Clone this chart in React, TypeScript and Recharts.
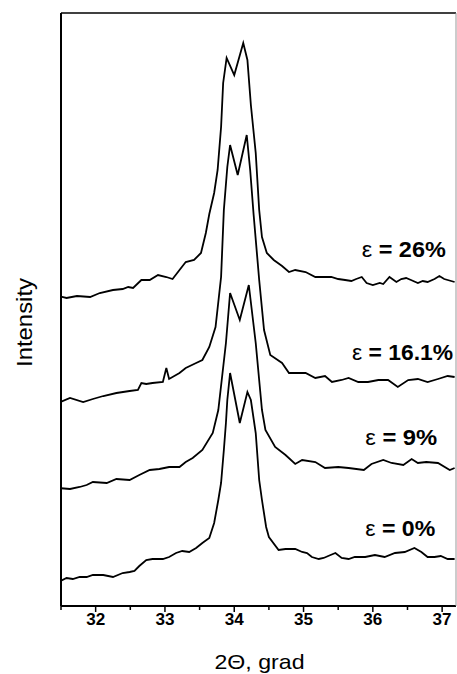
import React from "react";
import { LineChart, Line, XAxis, YAxis, ReferenceDot } from "recharts";

const FONT = '"Liberation Sans", Arial, Helvetica, sans-serif';

// 2-theta positions and stacked intensities (arbitrary units, curves offset)
const x0 = [31.46, 31.58, 31.67, 31.77, 31.87, 31.96, 32.11, 32.25, 32.39, 32.49, 32.56, 32.63, 32.73, 32.82, 32.97, 33.06, 33.16, 33.25, 33.35, 33.45, 33.54, 33.64, 33.71, 33.77, 33.81, 33.85, 33.88, 33.9, 33.94, 34.08, 34.19, 34.24, 34.31, 34.36, 34.4, 34.46, 34.5, 34.64, 34.74, 34.88, 34.98, 35.05, 35.12, 35.22, 35.29, 35.39, 35.46, 35.55, 35.65, 35.74, 35.89, 36.03, 36.17, 36.32, 36.46, 36.6, 36.7, 36.79, 36.89, 36.98, 37.08, 37.18];
const v0 = [24, 28, 27, 29, 29, 31, 31, 29, 33, 34, 35, 40, 46, 47, 47, 49, 53, 55, 54, 58, 63, 68, 83, 106, 123, 156, 183, 206, 233, 183, 214, 206, 173, 126, 106, 79, 69, 56, 57, 57, 54, 53, 49, 47, 48, 51, 53, 48, 47, 49, 49, 51, 49, 53, 54, 58, 54, 49, 49, 50, 47, 47];

const x9 = [31.46, 31.63, 31.77, 31.87, 31.96, 32.16, 32.3, 32.49, 32.63, 32.78, 32.92, 33.06, 33.21, 33.3, 33.4, 33.54, 33.69, 33.77, 33.88, 33.94, 34.08, 34.21, 34.31, 34.4, 34.45, 34.59, 34.74, 34.88, 34.98, 35.17, 35.31, 35.5, 35.65, 35.87, 35.98, 36.15, 36.27, 36.44, 36.56, 36.65, 36.77, 36.94, 37.11, 37.18];
const v9 = [118, 117, 119, 121, 124, 123, 127, 126, 131, 136, 137, 139, 139, 144, 148, 156, 173, 196, 263, 313, 286, 321, 263, 196, 176, 159, 151, 142, 146, 144, 138, 139, 138, 136, 142, 146, 143, 141, 147, 143, 144, 143, 136, 138];

const x16 = [31.46, 31.63, 31.82, 31.96, 32.11, 32.3, 32.49, 32.61, 32.66, 32.73, 32.82, 32.97, 33.02, 33.06, 33.21, 33.3, 33.45, 33.54, 33.64, 33.73, 33.81, 33.85, 33.9, 33.94, 34.05, 34.18, 34.23, 34.28, 34.36, 34.43, 34.52, 34.69, 34.79, 34.88, 35.03, 35.17, 35.31, 35.41, 35.55, 35.65, 35.79, 35.93, 36.08, 36.22, 36.36, 36.51, 36.65, 36.79, 36.94, 37.08, 37.18];
const v16 = [203, 208, 204, 207, 210, 213, 215, 216, 223, 222, 223, 224, 238, 227, 233, 238, 243, 246, 259, 279, 329, 396, 439, 461, 431, 471, 436, 391, 326, 276, 251, 243, 233, 233, 233, 228, 230, 224, 226, 228, 224, 224, 226, 226, 219, 226, 227, 224, 227, 230, 229];

const x26 = [31.46, 31.58, 31.73, 31.92, 32.06, 32.25, 32.39, 32.47, 32.54, 32.66, 32.78, 32.9, 33.02, 33.11, 33.21, 33.3, 33.42, 33.52, 33.59, 33.64, 33.71, 33.76, 33.81, 33.84, 33.89, 34.0, 34.13, 34.19, 34.24, 34.31, 34.36, 34.4, 34.47, 34.57, 34.69, 34.79, 34.88, 35.03, 35.17, 35.31, 35.4, 35.5, 35.6, 35.69, 35.76, 35.84, 35.91, 36.0, 36.1, 36.15, 36.24, 36.34, 36.41, 36.48, 36.55, 36.65, 36.72, 36.79, 36.89, 36.96, 37.03, 37.18];
const v26 = [310, 308, 310, 309, 313, 316, 317, 319, 318, 326, 326, 331, 329, 327, 336, 344, 346, 353, 373, 392, 413, 436, 479, 523, 548, 531, 563, 546, 501, 453, 396, 369, 353, 346, 340, 334, 336, 334, 329, 329, 329, 327, 326, 325, 327, 329, 323, 321, 323, 322, 329, 324, 327, 328, 326, 323, 325, 324, 327, 330, 327, 324];

const strainNames = ["0%", "9%", "16.1%", "26%"];
const xTicks = [31.5, 32, 32.5, 33, 33.5, 34, 34.5, 35, 35.5, 36, 36.5, 37];
const X_DOMAIN = [31.5, 37.2];
const Y_DOMAIN = [0, 593];

const toPoints = (xs: number[], vs: number[]) => xs.map((x, i) => ({ x, v: vs[i] }));
const curves = [toPoints(x0, v0), toPoints(x9, v9), toPoints(x16, v16), toPoints(x26, v26)];

// layout
const CHART_W = 470;
const CHART_H = 674;
const M_TOP = 13;
const M_RIGHT = 14;
const Y_AXIS_W = 61;
const X_AXIS_H = 68;
const PLOT_W = CHART_W - Y_AXIS_W - M_RIGHT;

// where each strain label sits (start x, baseline value) and its drawn width
const labelSpots = [
  { x: 35.89, v: 70, w: 70 },
  { x: 35.89, v: 161, w: 72 },
  { x: 35.7, v: 246, w: 101 },
  { x: 35.84, v: 349, w: 84 },
];

const AxisTick = (props: any) => {
  const { x, y, payload } = props;
  const major = Number.isInteger(payload.value);
  return (
    <g>
      <line x1={x} y1={y} x2={x} y2={y + (major ? 6 : 4)} stroke="#000" strokeWidth={1.5} />
      {major && (
        <text
          x={x}
          y={y + 19}
          textAnchor="middle"
          fontFamily={FONT}
          fontWeight="bold"
          fontSize={16}
          textLength={19}
          lengthAdjust="spacingAndGlyphs"
          fill="#000"
        >
          {payload.value}
        </text>
      )}
    </g>
  );
};

const XTitle = (props: any) => {
  const vb = props.viewBox;
  return (
    <text
      x={vb.x + vb.width / 2 + 1}
      y={vb.y + 63}
      textAnchor="middle"
      fontFamily={FONT}
      fontSize={21}
      textLength={90}
      lengthAdjust="spacingAndGlyphs"
      fill="#000"
    >
      2Θ, grad
    </text>
  );
};

// y title, plus the top and right edges of the plot frame (drawn from the axis box)
const YTitle = (props: any) => {
  const vb = props.viewBox;
  const cx = 32;
  const cy = vb.y + vb.height / 2 + 13;
  const left = vb.x + vb.width;
  const right = left + PLOT_W;
  return (
    <g>
      <line x1={left} y1={vb.y} x2={right} y2={vb.y} stroke="#000" strokeWidth={1.5} />
      <line x1={right} y1={vb.y} x2={right} y2={vb.y + vb.height} stroke="#999" strokeWidth={1} />
      <text
        x={cx}
        y={cy}
        transform={`rotate(-90, ${cx}, ${cy})`}
        textAnchor="middle"
        fontFamily={FONT}
        fontSize={22}
        textLength={89}
        lengthAdjust="spacingAndGlyphs"
        fill="#000"
      >
        Intensity
      </text>
    </g>
  );
};

const strainLabel = (name: string, w: number) => (p: any) => (
  <text
    x={p.cx}
    y={p.cy}
    fontFamily={FONT}
    fontSize={22}
    textLength={w}
    lengthAdjust="spacingAndGlyphs"
    fill="#000"
  >
    <tspan>ε</tspan>
    <tspan fontWeight="bold"> = {name}</tspan>
  </text>
);

export default function App() {
  return (
    <div
      style={{
        position: "absolute",
        left: 0,
        top: 0,
        width: 457,
        height: 674,
        overflow: "hidden",
        background: "#fff",
      }}
    >
      <LineChart
        width={CHART_W}
        height={CHART_H}
        margin={{ top: M_TOP, right: M_RIGHT, bottom: 0, left: 0 }}
      >
        <XAxis
          type="number"
          dataKey="x"
          domain={X_DOMAIN}
          allowDataOverflow
          ticks={xTicks}
          interval={0}
          tick={<AxisTick />}
          tickLine={false}
          tickSize={0}
          tickMargin={0}
          height={X_AXIS_H}
          axisLine={{ stroke: "#000", strokeWidth: 2 }}
          label={{ content: XTitle }}
        />
        <YAxis
          type="number"
          domain={Y_DOMAIN}
          allowDataOverflow
          width={Y_AXIS_W}
          tick={false}
          tickLine={false}
          axisLine={{ stroke: "#000", strokeWidth: 2 }}
          label={{ content: YTitle }}
        />
        {curves.map((data, i) => (
          <Line
            key={strainNames[i]}
            data={data}
            dataKey="v"
            type="linear"
            stroke="#000"
            strokeWidth={1.8}
            dot={false}
            isAnimationActive={false}
          />
        ))}
        {strainNames.map((name, i) => (
          <ReferenceDot
            key={"lbl" + name}
            x={labelSpots[i].x}
            y={labelSpots[i].v}
            r={0}
            shape={strainLabel(name, labelSpots[i].w)}
          />
        ))}
      </LineChart>
    </div>
  );
}
